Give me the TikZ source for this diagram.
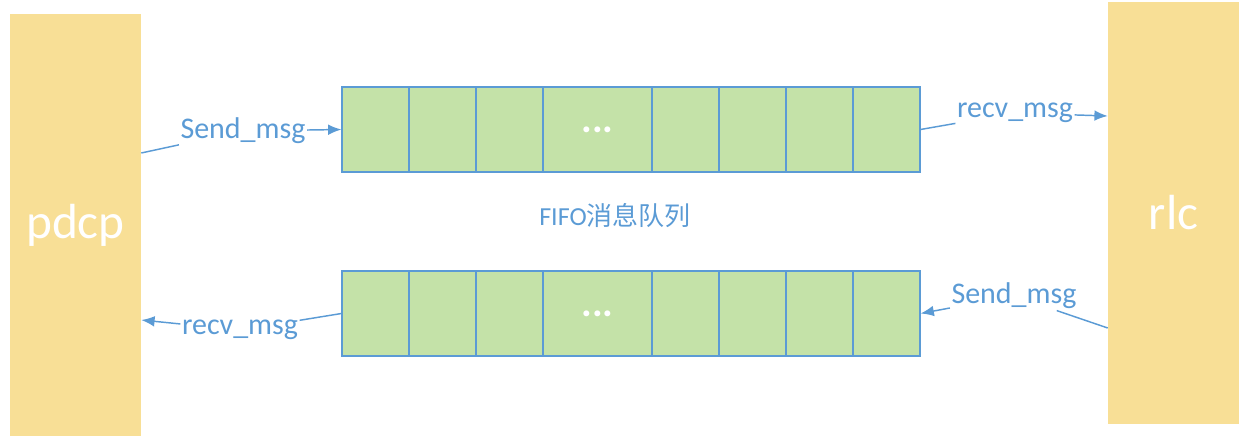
\documentclass[tikz,border=0pt]{standalone}
\usepackage{fontspec}
\setmainfont{Carlito}
\newfontfamily\cjk{Noto Sans CJK SC}
\usetikzlibrary{arrows.meta, positioning}
\definecolor{LayerFill}{RGB}{248, 223, 150}
\definecolor{CellFill}{RGB}{196, 226, 168}
\definecolor{LinkBlue}{RGB}{91, 155, 213}

\tikzset{
    layer/.style={fill=LayerFill, minimum width=98.25pt, minimum height=316.5pt, inner sep=0pt,
        text=white, font=\fontsize{37}{40}\selectfont},
    cell/.style={draw=LinkBlue, line width=0.8pt, fill=CellFill, minimum height=63.75pt, inner sep=0pt},
    msg/.style={text=LinkBlue, inner sep=1pt, font=\fontsize{22.5}{26}\selectfont},
    link/.style={draw=LinkBlue, line width=1.1pt},
    linkarrow/.style={link, -{Latex[length=10pt, width=8pt]}}
}

\begin{document}
\begin{tikzpicture}[x=0.75pt, y=-0.75pt]
            \useasboundingbox (0,0) rectangle (1246,445);

            % Layers
            \node[layer] (pdcp) at (75.5,225) {pdcp};
            \node[layer] (rlc) at (1173.5,213) {rlc};

            % FIFO queues
            \foreach \a/\b [count=\i] in {342/409,409/476,476/543,543/652,652/719,719/786,786/853,853/920} {
                \node[cell, minimum width={(\b-\a)*0.75pt}] (t\i) at ({(\a+\b)/2},129.5) {};
                \node[cell, minimum width={(\b-\a)*0.75pt}] (b\i) at ({(\a+\b)/2},313.5) {};
            }
            \node[text=white, font=\fontsize{30}{32}\selectfont\bfseries] (tdots) at (t4) {...};
            \node[text=white, font=\fontsize{30}{32}\selectfont\bfseries] (bdots) at (b4) {...};

            \node[text=LinkBlue, font=\fontsize{19.5}{23}\selectfont] (fifo) at (615,216) {FIFO{\cjk 消息队列}};

            % Messages
            \node[msg] (ls) at (243,131) {Send\_msg};
            \node[msg] (rr) at (1015,113) {recv\_msg};
            \node[msg] (rs) at (1014,296) {Send\_msg};
            \node[msg] (lr) at (240,330) {recv\_msg};

            \draw[link] ([yshift=54pt]pdcp.east) -- (ls);
            \draw[linkarrow] (ls) -- (t1.west);

            \draw[link] (t8.east) -- (rr);
            \draw[linkarrow] (rr) -- ([yshift=72.75pt]rlc.west);

            \draw[link] ([yshift=-86.25pt]rlc.west) -- (rs);
            \draw[linkarrow] (rs) -- (b8.east);

            \draw[link] (b1.west) -- (lr);
            \draw[linkarrow] (lr) -- ([yshift=-71.25pt]pdcp.east);
        \end{tikzpicture}
\end{document}
